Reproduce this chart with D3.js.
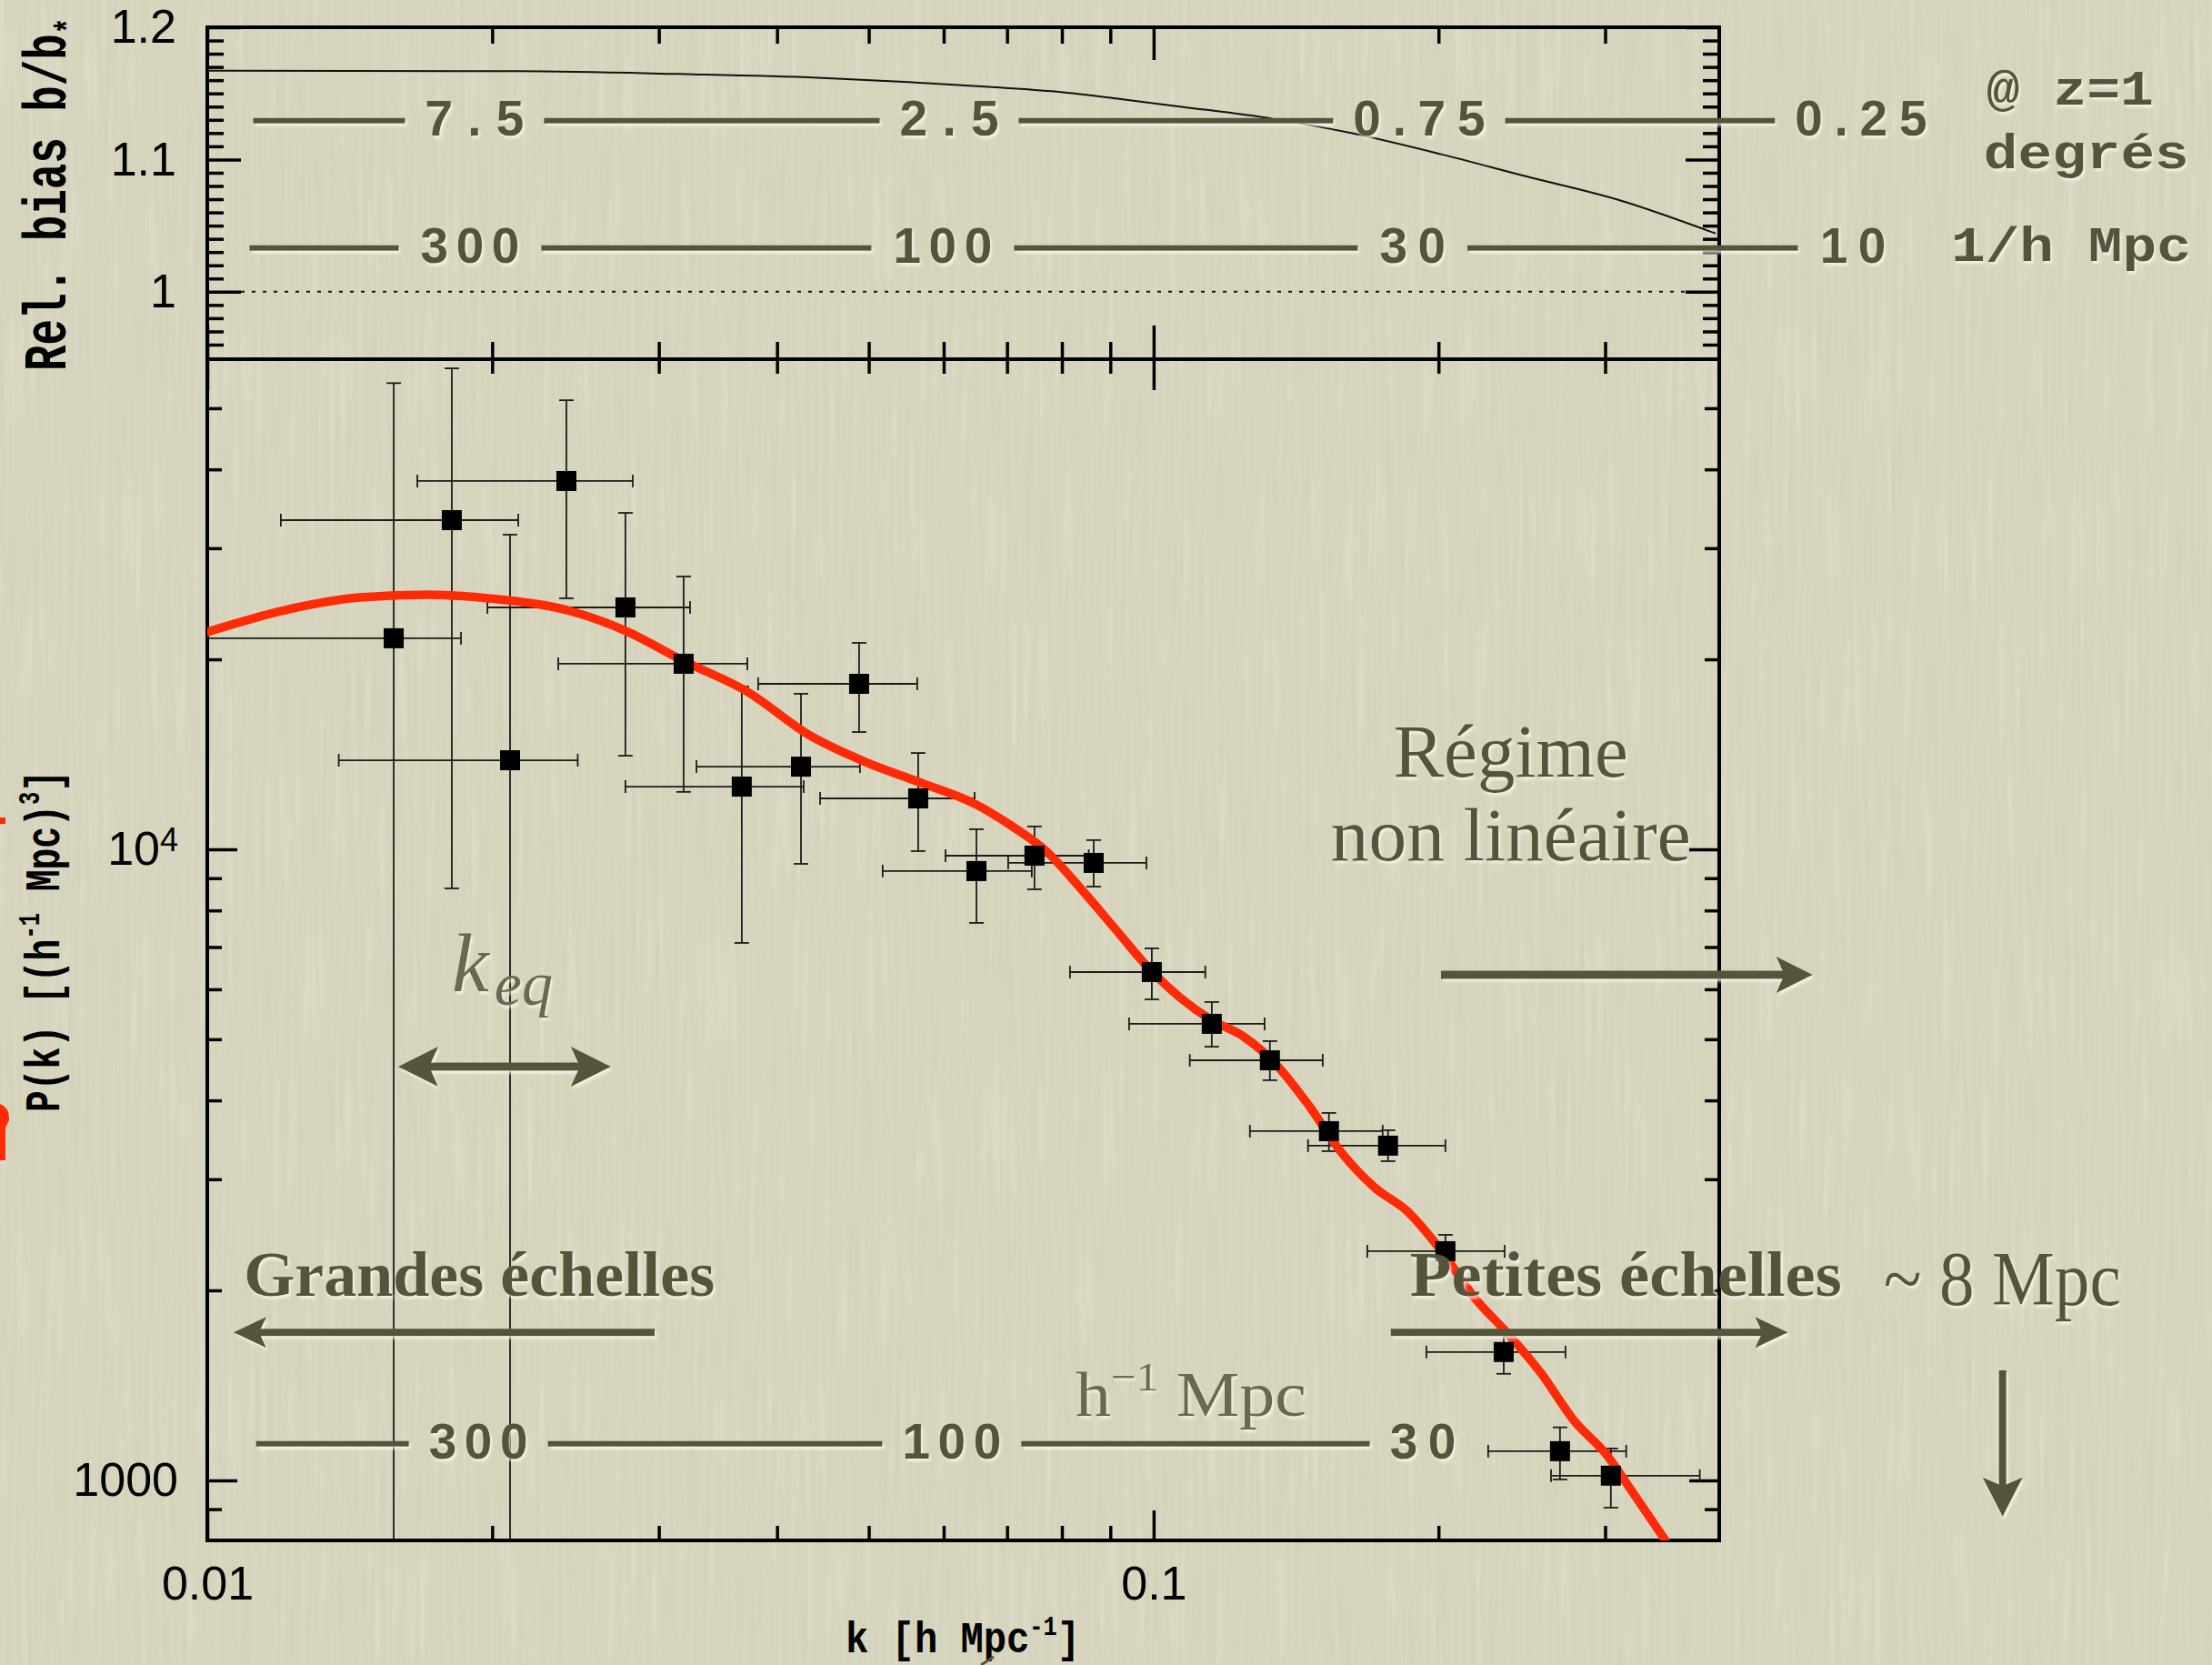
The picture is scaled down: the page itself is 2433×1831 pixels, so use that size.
<!DOCTYPE html>
<html>
<head>
<meta charset="utf-8">
<script src="https://cdn.jsdelivr.net/npm/d3@7"></script>
<style>
  html, body { margin: 0; padding: 0; background: #d5d3bc; }
  svg { display: block; }
</style>
</head>
<body>
<div id="chart"></div>
<script>
// ---------------- data ----------------
// Band-power measurements: wavenumber k [h/Mpc], power P(k) [(Mpc/h)^3], bin edges and 1-sigma range
const kData = [0.01574, 0.01813, 0.02089, 0.02396, 0.02766, 0.03187, 0.03671, 0.04240, 0.04884, 0.05639, 0.06498,
               0.07483, 0.08643, 0.09956, 0.1152, 0.1327, 0.1532, 0.1769, 0.2034, 0.2344, 0.2688, 0.3042];
const pData = [21600, 33240, 13840, 38340, 24170, 19680, 12570, 13520, 18290, 12040, 9236,
               9770, 9515, 6389, 5289, 4630, 3575, 3391, 2307, 1597, 1112, 1017];
const kLow  = [0.0095, 0.01196, 0.01377, 0.01667, 0.01977, 0.02349, 0.02766, 0.03288, 0.03821, 0.04442, 0.05172,
               0.06026, 0.07020, 0.08158, 0.09421, 0.1092, 0.1264, 0.1456, 0.1682, 0.1942, 0.2257, 0.2630];
const kHigh = [0.01854, 0.02131, 0.02463, 0.02816, 0.03237, 0.03721, 0.04268, 0.04894, 0.05626, 0.06469, 0.07434,
               0.0854, 0.09825, 0.1134, 0.1310, 0.1509, 0.1746, 0.2034, 0.2349, 0.2724, 0.3158, 0.3777];
const pLow  = [700, 8670, 700, 24990, 14070, 12330, 7106, 9483, 15340, 9934, 7645,
               8641, 8727, 5784, 4866, 4306, 3323, 3204, 2174, 1475, 1003, 905];
const pHigh = [54800, 57830, 31520, 51480, 34130, 27060, 18110, 17640, 21240, 14210, 10760,
               10870, 10340, 6966, 5727, 4966, 3821, 3587, 2449, 1723, 1213, 1123];

// Model power spectrum (red curve)
const modelK = [0.01, 0.01207, 0.01450, 0.01712, 0.01981, 0.02439, 0.02772, 0.03187, 0.03712, 0.04335, 0.04983,
                0.05651, 0.06498, 0.07020, 0.07700, 0.08453, 0.09133, 0.09867, 0.1066, 0.1152, 0.1245, 0.1348,
                0.1457, 0.1578, 0.1712, 0.1854, 0.2012, 0.2183, 0.2364, 0.2566, 0.2779, 0.3016, 0.3202, 0.3474];
const modelP = [22100, 23930, 25070, 25320, 24990, 23770, 22170, 19880, 17810, 15140, 13710,
                12780, 11770, 10980, 9934, 8527, 7442, 6497, 5823, 5359, 5048, 4555,
                3937, 3313, 2911, 2670, 2315, 1948, 1712, 1479, 1245, 1094, 961, 803];

// Relative bias b/b* (upper panel)
const biasK = [0.01, 0.02149, 0.03145, 0.04418, 0.05514, 0.06881, 0.07980, 0.09235, 0.1071, 0.1336, 0.1617,
               0.2013, 0.2483, 0.3097, 0.3927];
const biasB = [1.1672, 1.1668, 1.1647, 1.1619, 1.1585, 1.1544, 1.1510, 1.1457, 1.1399, 1.1308, 1.120,
               1.104, 1.087, 1.0695, 1.044];

// Axis ticks and labels
const kMajor = [0.01, 0.1];
const kMinor = [0.02, 0.03, 0.04, 0.05, 0.06, 0.07, 0.08, 0.09, 0.2, 0.3];
const kTickLabels = ["0.01", "0.1"];
const pMajor = [1000, 10000];
const pMinor = [900, 2000, 3000, 4000, 5000, 6000, 7000, 8000, 9000, 20000, 30000, 40000, 50000];
const pTickLabels = [["1000", ""], ["10", "4"]];
const bMajor = [1.0, 1.1, 1.2];
const bMinor = [0.96, 0.97, 0.98, 0.99, 1.01, 1.02, 1.03, 1.04, 1.05, 1.06, 1.07, 1.08, 1.09,
                1.11, 1.12, 1.13, 1.14, 1.15, 1.16, 1.17, 1.18, 1.19];
const bTickLabels = ["1", "1.1", "1.2"];

// Scale bars: angular scale (degrees at z=1) and comoving scale (1/h Mpc)
const degreeLabels = ["7.5", "2.5", "0.75", "0.25"];
const degreeAtK = [0.01916, 0.06081, 0.1908, 0.5591];
const mpcLabels = ["300", "100", "30", "10"];
const mpcAtK = [0.01895, 0.05986, 0.1878, 0.5481];
const mpcLowLabels = ["300", "100", "30"];
const mpcLowAtK = [0.01934, 0.06119, 0.1925];

// ---------------- layout ----------------
const W = 2433, H = 1831;
const plot = { left: 228, right: 1891, top: 30, mid: 395, bottom: 1694 };
const olive = "#57533b";
const oliveLight = "#6a674f";
const red = "#ff2a06";

const x = d3.scaleLog().domain([0.01, 0.396]).range([plot.left, plot.right]);
const yBias = d3.scaleLinear().domain([0.949, 1.2]).range([plot.mid, plot.top]);
const yP = d3.scaleLog().domain([803, 59800]).range([plot.bottom, plot.mid]);

const svg = d3.select("#chart").append("svg").attr("width", W).attr("height", H);
const defs = svg.append("defs");

// paper fibres
const fibreLight = defs.append("filter").attr("id", "fibreLight")
  .attr("filterUnits", "userSpaceOnUse").attr("x", 0).attr("y", 0).attr("width", W).attr("height", H);
fibreLight.append("feTurbulence").attr("type", "fractalNoise").attr("baseFrequency", "0.16 0.006")
  .attr("numOctaves", 2).attr("seed", 5);
fibreLight.append("feColorMatrix").attr("type", "matrix")
  .attr("values", "0 0 0 0 1  0 0 0 0 1  0 0 0 0 0.94  1.8 0 0 0 -0.85");
const fibreDark = defs.append("filter").attr("id", "fibreDark")
  .attr("filterUnits", "userSpaceOnUse").attr("x", 0).attr("y", 0).attr("width", W).attr("height", H);
fibreDark.append("feTurbulence").attr("type", "fractalNoise").attr("baseFrequency", "0.2 0.007")
  .attr("numOctaves", 2).attr("seed", 11);
fibreDark.append("feColorMatrix").attr("type", "matrix")
  .attr("values", "0 0 0 0 0.45  0 0 0 0 0.43  0 0 0 0 0.33  -1.8 0 0 0 0.8");

// soft light rim under the overlay lettering
const emboss = defs.append("filter").attr("id", "emboss").attr("x", "-5%").attr("y", "-5%")
  .attr("width", "110%").attr("height", "110%");
emboss.append("feGaussianBlur").attr("in", "SourceAlpha").attr("stdDeviation", 1.6);
emboss.append("feOffset").attr("dx", 1.5).attr("dy", 2.5).attr("result", "off");
emboss.append("feFlood").attr("flood-color", "#fbfaf0").attr("flood-opacity", 0.75);
emboss.append("feComposite").attr("in2", "off").attr("operator", "in").attr("result", "rim");
const em = emboss.append("feMerge");
em.append("feMergeNode").attr("in", "rim");
em.append("feMergeNode").attr("in", "SourceGraphic");

defs.append("clipPath").attr("id", "clipTop").append("rect")
  .attr("x", plot.left).attr("y", plot.top).attr("width", plot.right - plot.left).attr("height", plot.mid - plot.top);
defs.append("clipPath").attr("id", "clipBottom").append("rect")
  .attr("x", plot.left).attr("y", plot.mid).attr("width", plot.right - plot.left).attr("height", plot.bottom - plot.mid);

svg.append("rect").attr("width", W).attr("height", H).attr("fill", "#d6d4bd");
svg.append("rect").attr("width", W).attr("height", H).attr("filter", "url(#fibreLight)").attr("opacity", 0.26);
svg.append("rect").attr("width", W).attr("height", H).attr("filter", "url(#fibreDark)").attr("opacity", 0.15);

// ---------------- axes ----------------
function drawAxis(orient, scale, pos, minorVals, majorVals, minorLen, majorLen, fmt, padding) {
  const make = { top: d3.axisTop, bottom: d3.axisBottom, left: d3.axisLeft, right: d3.axisRight }[orient];
  const tr = (orient === "top" || orient === "bottom") ? `translate(0,${pos})` : `translate(${pos},0)`;
  const gMinor = svg.append("g").attr("transform", tr)
    .call(make(scale).tickValues(minorVals).tickSize(-minorLen).tickSizeOuter(0).tickFormat(""));
  const gMajor = svg.append("g").attr("transform", tr)
    .call(make(scale).tickValues(majorVals).tickSize(-majorLen).tickSizeOuter(0)
      .tickPadding(padding || 0).tickFormat(fmt || ""));
  [gMinor, gMajor].forEach(g => {
    g.select(".domain").remove();
    g.selectAll(".tick line").attr("stroke", "#000").attr("stroke-width", 3.5);
  });
  gMajor.selectAll(".tick text").attr("fill", "#000")
    .style("font-family", "'Liberation Sans', Arial, sans-serif").style("font-size", "52px");
  return gMajor;
}

// upper panel
drawAxis("top", x, plot.top, kMinor, kMajor, 18, 36);
drawAxis("bottom", x, plot.mid, kMinor, kMajor, 19, 37);
drawAxis("left", yBias, plot.left, bMinor, bMajor, 18, 37, (d, i) => bTickLabels[i], 34);
drawAxis("right", yBias, plot.right, bMinor, bMajor, 18, 37);

// lower panel
drawAxis("top", x, plot.mid, kMinor, kMajor, 16, 34);
drawAxis("bottom", x, plot.bottom, kMinor, kMajor, 16, 33, (d, i) => kTickLabels[i], 28);
const gPLeft = drawAxis("left", yP, plot.left, pMinor, pMajor, 16, 33, (d, i) => pTickLabels[i][0], 32);
drawAxis("right", yP, plot.right, pMinor, pMajor, 16, 33);
gPLeft.selectAll(".tick text").each(function (d, i) {
  const exp = pTickLabels[i][1];
  if (exp) {
    d3.select(this).append("tspan").attr("dy", "-0.42em").style("font-size", "36px").text(exp);
  }
});

// frames
svg.append("rect").attr("x", plot.left).attr("y", plot.top).attr("width", plot.right - plot.left)
  .attr("height", plot.mid - plot.top).attr("fill", "none").attr("stroke", "#000").attr("stroke-width", 4);
svg.append("rect").attr("x", plot.left).attr("y", plot.mid).attr("width", plot.right - plot.left)
  .attr("height", plot.bottom - plot.mid).attr("fill", "none").attr("stroke", "#000").attr("stroke-width", 4);

// ---------------- upper panel content ----------------
const gTop = svg.append("g").attr("clip-path", "url(#clipTop)");
gTop.append("line").attr("x1", plot.left + 37).attr("x2", plot.right - 37)
  .attr("y1", yBias(1)).attr("y2", yBias(1))
  .attr("stroke", "#111").attr("stroke-width", 2).attr("stroke-dasharray", "4 8");
gTop.append("path").datum(d3.zip(biasK, biasB))
  .attr("d", d3.line().x(d => x(d[0])).y(d => yBias(d[1])).curve(d3.curveMonotoneX))
  .attr("fill", "none").attr("stroke", "#111").attr("stroke-width", 2);

// ---------------- lower panel content ----------------
const pts = kData.map((k, i) => ({ k, p: pData[i], k0: kLow[i], k1: kHigh[i], p0: pLow[i], p1: pHigh[i] }));
const gB = svg.append("g").attr("clip-path", "url(#clipBottom)");
const ebColor = "#1b1b1b";
const eb = gB.selectAll("g.eb").data(pts).join("g").attr("class", "eb")
  .attr("stroke", ebColor).attr("stroke-width", 1.8);
eb.append("line").attr("x1", d => x(d.k0)).attr("x2", d => x(d.k1)).attr("y1", d => yP(d.p)).attr("y2", d => yP(d.p));
eb.append("line").attr("x1", d => x(d.k)).attr("x2", d => x(d.k)).attr("y1", d => yP(d.p0)).attr("y2", d => yP(d.p1));
eb.append("line").attr("x1", d => x(d.k0)).attr("x2", d => x(d.k0)).attr("y1", d => yP(d.p) - 7).attr("y2", d => yP(d.p) + 7);
eb.append("line").attr("x1", d => x(d.k1)).attr("x2", d => x(d.k1)).attr("y1", d => yP(d.p) - 7).attr("y2", d => yP(d.p) + 7);
eb.append("line").attr("x1", d => x(d.k) - 8).attr("x2", d => x(d.k) + 8).attr("y1", d => yP(d.p0)).attr("y2", d => yP(d.p0));
eb.append("line").attr("x1", d => x(d.k) - 8).attr("x2", d => x(d.k) + 8).attr("y1", d => yP(d.p1)).attr("y2", d => yP(d.p1));

gB.append("path").datum(d3.zip(modelK, modelP))
  .attr("d", d3.line().x(d => x(d[0])).y(d => yP(d[1])).curve(d3.curveMonotoneX))
  .attr("fill", "none").attr("stroke", red).attr("stroke-width", 9.5).attr("stroke-linecap", "round");

gB.selectAll("rect.pt").data(pts).join("rect").attr("class", "pt")
  .attr("x", d => x(d.k) - 11).attr("y", d => yP(d.p) - 11).attr("width", 22).attr("height", 22).attr("fill", "#000");

// ---------------- axis titles ----------------
const mono = "'Liberation Mono', 'Courier New', monospace";
function richText(sel, parts, size) {
  parts.forEach(p => {
    const t = sel.append("tspan").text(p.t);
    if (p.sup) t.attr("dy", -0.4 * size).style("font-size", (0.6 * size) + "px");
    else if (p.sub) t.attr("dy", 0.22 * size).style("font-size", (0.6 * size) + "px");
    if (p.back) t.attr("dy", p.back);
  });
}
const tBias = svg.append("text").attr("transform", "translate(72,408) rotate(-90)")
  .attr("textLength", 388).attr("lengthAdjust", "spacingAndGlyphs")
  .style("font-family", mono).style("font-weight", "bold").style("font-size", "66px").attr("fill", "#000");
richText(tBias, [{ t: "Rel. bias b/b" }, { t: "*", sub: true }], 66);

const tP = svg.append("text").attr("transform", "translate(65,1223) rotate(-90)")
  .attr("textLength", 376).attr("lengthAdjust", "spacingAndGlyphs")
  .style("font-family", mono).style("font-weight", "bold").style("font-size", "54px").attr("fill", "#000");
richText(tP, [{ t: "P(k) [(h" }, { t: "-1", sup: true }, { t: " Mpc)", back: 0.4 * 54 }, { t: "3", sup: true },
              { t: "]", back: 0.4 * 54 }], 54);

const tK = svg.append("text").attr("x", 930).attr("y", 1817)
  .attr("textLength", 258).attr("lengthAdjust", "spacingAndGlyphs")
  .style("font-family", mono).style("font-weight", "bold").style("font-size", "48px").attr("fill", "#000");
richText(tK, [{ t: "k [h Mpc" }, { t: "-1", sup: true }, { t: "]", back: 0.4 * 48 }], 48);

// ---------------- overlay annotations ----------------
const ann = svg.append("g").attr("filter", "url(#emboss)");
const sans = "'Liberation Sans', Arial, sans-serif";
const serif = "'Liberation Serif', 'Times New Roman', serif";

function scaleRow(labels, atK, yLine, gap, lead) {
  const boxes = labels.map((t, i) => ({ t, cx: x(atK[i]), w: t.length * 36.3 }));
  boxes.forEach(b => {
    ann.append("text").attr("x", b.cx).attr("y", yLine + 16).attr("text-anchor", "middle")
      .attr("textLength", b.w).attr("lengthAdjust", "spacing")
      .style("font-family", sans).style("font-weight", "bold").style("font-size", "55px")
      .attr("fill", olive).text(b.t);
  });
  const segs = [[boxes[0].cx - boxes[0].w / 2 - gap - lead, boxes[0].cx - boxes[0].w / 2 - gap]];
  for (let i = 0; i < boxes.length - 1; i++) {
    segs.push([boxes[i].cx + boxes[i].w / 2 + gap, boxes[i + 1].cx - boxes[i + 1].w / 2 - gap]);
  }
  segs.forEach(s => ann.append("line").attr("x1", s[0]).attr("x2", s[1]).attr("y1", yLine).attr("y2", yLine)
    .attr("stroke", olive).attr("stroke-width", 6));
}
scaleRow(degreeLabels, degreeAtK, yBias(1.1294), 22, 167);
scaleRow(mpcLabels, mpcAtK, yBias(1.033), 24, 164);
scaleRow(mpcLowLabels, mpcLowAtK, yP(1142), 22, 168);

function monoLabel(text, k, yy, len) {
  ann.append("text").attr("x", x(k)).attr("y", yy).attr("textLength", len).attr("lengthAdjust", "spacingAndGlyphs")
    .style("font-family", mono).style("font-weight", "bold").style("font-size", "54px").attr("fill", olive).text(text);
}
monoLabel("@ z=1", 0.7586, yBias(1.1418), 184);
monoLabel("degrés", 0.7535, yBias(1.0936), 226);
monoLabel("1/h Mpc", 0.6960, yBias(1.0234), 264);

function serifLabel(text, k, p, size, len, opts) {
  const o = opts || {};
  return ann.append("text").attr("x", x(k)).attr("y", yP(p)).attr("text-anchor", o.anchor || "start")
    .attr("textLength", len).attr("lengthAdjust", "spacingAndGlyphs")
    .style("font-family", serif).style("font-size", size + "px").style("font-weight", o.bold ? "bold" : "normal")
    .attr("fill", o.color || olive).text(text);
}
serifLabel("Régime", 0.2385, 13040, 82, 258, { anchor: "middle" });
serifLabel("non linéaire", 0.2385, 9610, 82, 396, { anchor: "middle" });
serifLabel("Grandes échelles", 0.01093, 1961, 70, 518, { bold: true });
serifLabel("Petites échelles", 0.1866, 1961, 70, 475, { bold: true });
serifLabel("~ 8 Mpc", 0.5907, 1897, 84, 261);

// h^-1 Mpc unit for the lower scale bar
const hm = ann.append("text").attr("x", x(0.0827)).attr("y", yP(1266))
  .attr("textLength", 254).attr("lengthAdjust", "spacingAndGlyphs")
  .style("font-family", serif).style("font-size", "70px").attr("fill", oliveLight);
hm.append("tspan").text("h");
hm.append("tspan").attr("dy", -28).style("font-size", "44px").text("−1");
hm.append("tspan").attr("dy", 28).text(" Mpc");

// k_eq
const keq = ann.append("text").attr("x", x(0.01813)).attr("y", yP(5958))
  .style("font-family", serif).style("font-style", "italic").style("font-size", "92px").attr("fill", oliveLight);
keq.append("tspan").text("k");
keq.append("tspan").attr("dx", 6).attr("dy", 15).style("font-size", "68px").text("eq");

// arrows
function head(tx, ty, ang, len, half) {
  const c = Math.cos(ang), s = Math.sin(ang);
  const P = (u, v) => [tx + u * c - v * s, ty + u * s + v * c];
  ann.append("path").attr("d", d3.line()([P(0, 0), P(-len, half), P(-0.78 * len, 0), P(-len, -half)]) + "Z")
    .attr("fill", olive);
}
function arrow(x1, y1, x2, y2, w, len, half, both) {
  const ang = Math.atan2(y2 - y1, x2 - x1);
  const c = Math.cos(ang), s = Math.sin(ang);
  const inset = 0.75 * len;
  const sx = both ? x1 + inset * c : x1, sy = both ? y1 + inset * s : y1;
  ann.append("line").attr("x1", sx).attr("y1", sy).attr("x2", x2 - inset * c).attr("y2", y2 - inset * s)
    .attr("stroke", olive).attr("stroke-width", w);
  head(x2, y2, ang, len, half);
  if (both) head(x1, y1, ang + Math.PI, len, half);
}
arrow(x(0.2012), yP(6327), x(0.4971), yP(6327), 9, 40, 20, false);
arrow(x(0.01591), yP(4524), x(0.02670), yP(4524), 9, 44, 22, true);
arrow(x(0.02970), yP(1715), x(0.01066), yP(1715), 8, 36, 17, false);
arrow(x(0.1781), yP(1715), x(0.4680), yP(1715), 8, 36, 17, false);
arrow(x(0.7892), yP(1494), x(0.7892), yP(876), 8, 43, 22, false);

// fragments at the page edges
svg.append("rect").attr("x", 0).attr("y", 899).attr("width", 6).attr("height", 7).attr("fill", red);
svg.append("path").attr("d", "M0,1214 Q11,1218 10,1232 L6,1240 L6,1276 L0,1276 Z").attr("fill", red);
svg.append("line").attr("x1", 1079).attr("y1", 1831).attr("x2", 1093).attr("y2", 1822)
  .attr("stroke", olive).attr("stroke-width", 3);
</script>
</body>
</html>
